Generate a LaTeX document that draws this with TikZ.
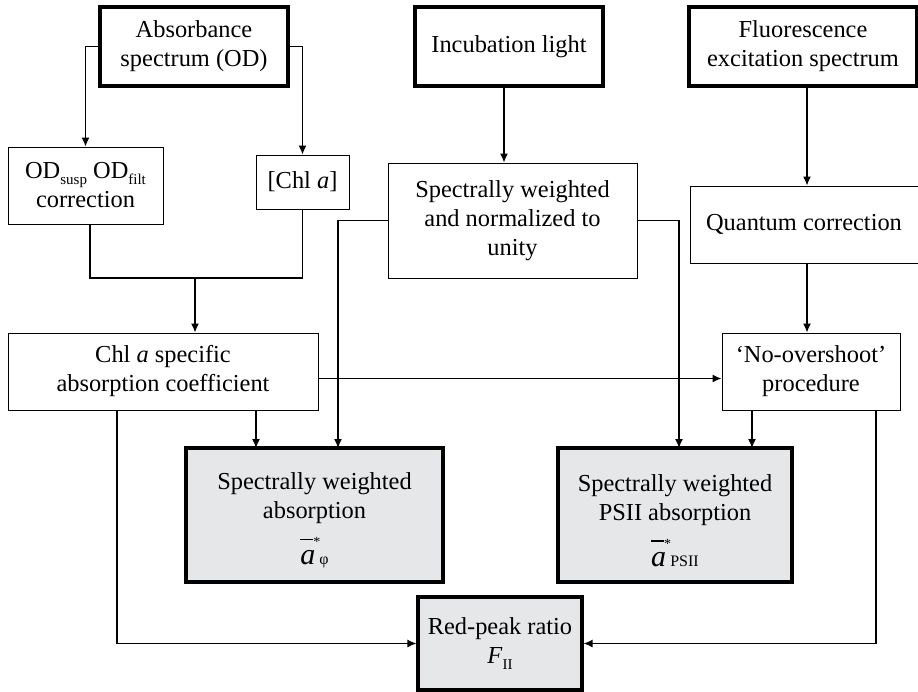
\documentclass[tikz,border=0pt]{standalone}
\usepackage{fontspec}
\setmainfont{Liberation Serif}
\usetikzlibrary{arrows.meta}
\definecolor{boxgray}{RGB}{230,231,233}
\newcommand{\lowsub}[1]{\raisebox{-0.5ex}{\fontsize{15}{15}\selectfont #1}}
\newcommand{\absbar}[1]{\makebox[0pt][l]{\raisebox{25pt}{\rule{13pt}{1.3pt}}\raisebox{18pt}{\fontsize{14}{14}\selectfont *}}{\fontsize{30}{30}\selectfont\itshape a}\,{\fontsize{16}{16}\selectfont #1}}

\begin{document}
\begin{tikzpicture}[x=1pt, y=-1pt, font=\fontsize{24.4}{29}\selectfont]
      \tikzstyle{block} = [rectangle, draw, line width=1pt, text centered, align=center, inner sep=0pt]
      \tikzstyle{source} = [block, line width=3.2pt]
      \tikzstyle{result} = [block, line width=3.2pt, fill=boxgray]
      \tikzstyle{line} = [draw, -{Latex[length=9pt,width=8pt]}, line width=1.3pt]
      \tikzstyle{wire} = [draw, line width=1.3pt]

      \useasboundingbox (0,0) rectangle (918,691);

      % inputs
      \node [source, minimum width=188pt, minimum height=79pt] (abs) at (194,46.5) {Absorbance\\spectrum (OD)};
      \node [source, minimum width=188pt, minimum height=79pt] (inc) at (509,46.5) {Incubation light};
      \node [source, minimum width=228pt, minimum height=79pt] (flu) at (803,46.5) {Fluorescence\\excitation spectrum};

      % processing
      \node [block, minimum width=155pt, minimum height=77pt] (odc) at (85.5,185.5) {OD\lowsub{susp} OD\lowsub{filt}\\correction};
      \node [block, minimum width=93pt, minimum height=54pt] (chl) at (302.5,182) {[Chl \textit{a}]};
      \node [block, minimum width=249pt, minimum height=115pt] (swn) at (512.5,220.5) {Spectrally weighted\\and normalized to\\unity};
      \node [block, minimum width=228pt, minimum height=77pt] (qc) at (804,224.5) {Quantum correction};
      \node [block, minimum width=310pt, minimum height=77pt] (cas) at (163,371.5) {Chl \textit{a} specific\\absorption coefficient};
      \node [block, minimum width=178pt, minimum height=77pt] (nov) at (811,371.5) {`No-overshoot'\\procedure};

      % results
      \node [result, minimum width=257pt, minimum height=134pt] (swa) at (314.5,515) {\rule{0pt}{28pt}Spectrally weighted\\absorption\\[13pt]\absbar{φ}};
      \node [result, minimum width=234pt, minimum height=134pt] (psii) at (675,515) {\rule{0pt}{28pt}Spectrally weighted\\PSII absorption\\[13pt]\absbar{PSII}};
      \node [result, minimum width=164pt, minimum height=93pt] (rpr) at (500,643.5) {Red-peak ratio\\\textit{F}\lowsub{II}};

      \coordinate (jn) at (195,278);
      \coordinate (swaL) at (256,448);
      \coordinate (swaR) at (338,448);
      \coordinate (psiiL) at (679,448);
      \coordinate (psiiR) at (752,448);
      \coordinate (casL) at (117,410);
      \coordinate (novR) at (876,410);

      \path [line] (abs.west) -| (odc.north);
      \path [line] (abs.east) -| (chl.north);
      \path [line] ([xshift=-5pt]inc.south) -- ([xshift=-5pt]inc.south |- swn.north);
      \path [line] ([xshift=4pt]flu.south) -- ([xshift=4pt]flu.south |- qc.north);
      \path [wire] ([xshift=4.5pt]odc.south) |- (jn);
      \path [wire] (chl.south) |- (jn);
      \path [line] (jn) -- (jn |- cas.north);
      \path [line] ([yshift=-7pt]cas.east) -- ([yshift=-7pt]nov.west);
      \path [line] ([xshift=3pt]qc.south) -- ([xshift=3pt]qc.south |- nov.north);
      \path [line] (swn.west) -| (swaR);
      \path [line] (swn.east) -| (psiiL);
      \path [line] (swaL |- cas.south) -- (swaL);
      \path [line] (psiiR |- nov.south) -- (psiiR);
      \path [line] (casL) |- (rpr.west);
      \path [line] (novR) |- (rpr.east);
    \end{tikzpicture}
\end{document}
